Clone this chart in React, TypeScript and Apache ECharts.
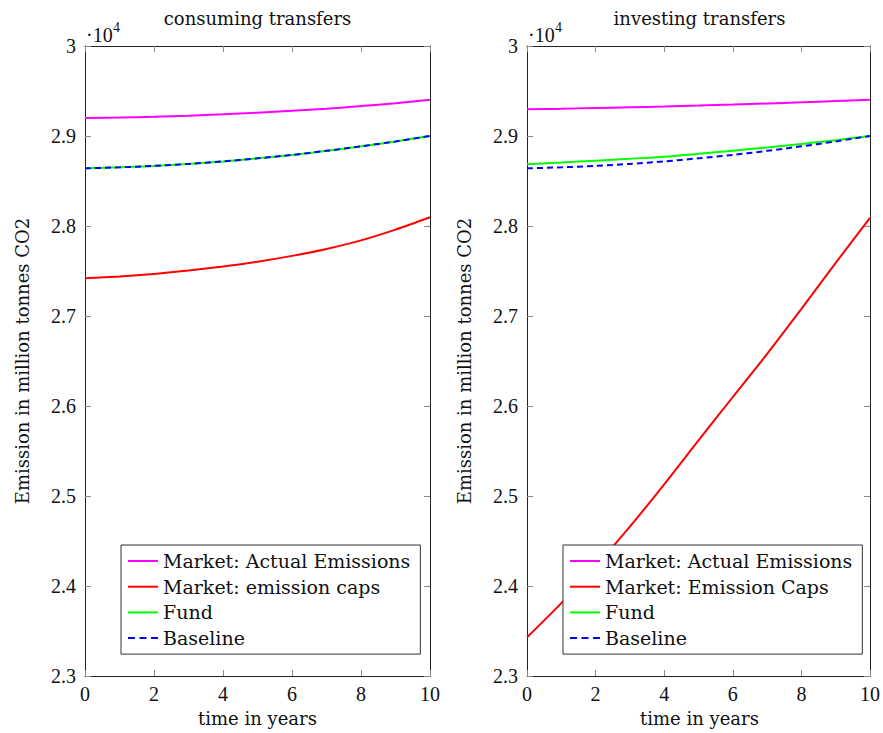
import React, { useEffect, useRef } from "react";
import * as echarts from "echarts";

// Years on the horizontal axis
const years = [0, 1, 2, 3, 4, 5, 6, 7, 8, 9, 10];

// Emissions in million tonnes CO2 — consuming transfers
const consActual = [29200, 29205, 29214, 29226, 29241, 29259, 29280, 29304, 29332, 29365, 29402];
const consCaps = [27420, 27440, 27468, 27505, 27550, 27603, 27668, 27745, 27840, 27960, 28097];
const consFund = [28641, 28652, 28668, 28690, 28718, 28752, 28790, 28835, 28885, 28940, 29000];
const consBaseline = [28641, 28652, 28668, 28690, 28718, 28752, 28790, 28835, 28885, 28940, 29000];

// Emissions in million tonnes CO2 — investing transfers
const invActual = [29296, 29303, 29311, 29319, 29328, 29338, 29349, 29361, 29374, 29389, 29404];
const invCaps = [23430, 23810, 24220, 24660, 25130, 25617, 26100, 26580, 27080, 27590, 28090];
const invFund = [28686, 28705, 28726, 28747, 28770, 28802, 28837, 28872, 28911, 28954, 29000];
const invBaseline = [28641, 28652, 28668, 28690, 28718, 28752, 28790, 28835, 28885, 28940, 29000];

const panelTitles = ["consuming transfers", "investing transfers"];
const consNames = ["Market: Actual Emissions", "Market: emission caps", "Fund", "Baseline"];
const invNames = ["Market: Actual Emissions", "Market: Emission Caps", "Fund", "Baseline"];
const seriesColors = ["#ff00ff", "#ff0000", "#00ff00", "#0000ff"];

const SERIF = "DejaVu Serif";
const NUM = "Liberation Serif";

const GRID_TOP = 46;
const GRID_H = 630;
const GRID_W = 345;
const GRID_LEFTS = [85, 527];

// legend keys: a solid bar, and a three-dash bar for the dashed series
const SOLID_KEY = "path://M0,0h30v2h-30z";
const DASH_KEY = "path://M0,0h7v2h-7z M11.5,0h7v2h-7z M23,0h7v2h-7z";

function pairs(vals: number[]) {
  return years.map((x, i) => [x, vals[i]]);
}

function makeSeries(names: string[], sets: number[][], axisIdx: number) {
  return sets.map((vals, i) => ({
    name: names[i],
    type: "line",
    xAxisIndex: axisIdx,
    yAxisIndex: axisIdx,
    data: pairs(vals),
    symbol: "none",
    smooth: 0.3,
    lineStyle: {
      color: seriesColors[i],
      width: 2,
      type: i === 3 ? [6, 4] : "solid",
    },
    itemStyle: { color: seriesColors[i] },
  }));
}

const tickStyle = { inside: true, length: 6, lineStyle: { color: "#888", width: 1 } };
const lineStyle = { show: true, onZero: false, lineStyle: { color: "#222", width: 1 } };

function xAxes(gridIndex: number) {
  return [
    {
      type: "value",
      gridIndex,
      position: "bottom",
      min: 0,
      max: 10,
      interval: 2,
      axisLine: lineStyle,
      axisTick: tickStyle,
      splitLine: { show: false },
      axisLabel: { color: "#111", fontFamily: NUM, fontSize: 20, margin: 8 },
    },
    {
      type: "value",
      gridIndex,
      position: "top",
      min: 0,
      max: 10,
      interval: 2,
      axisLine: lineStyle,
      axisTick: tickStyle,
      splitLine: { show: false },
      axisLabel: { show: false },
    },
  ];
}

function yAxes(gridIndex: number) {
  return [
    {
      type: "value",
      gridIndex,
      position: "left",
      min: 23000,
      max: 30000,
      interval: 1000,
      axisLine: lineStyle,
      axisTick: tickStyle,
      splitLine: { show: false },
      axisLabel: {
        color: "#111",
        fontFamily: NUM,
        fontSize: 20,
        margin: 9,
        formatter: (v: number) => String(Number((v / 10000).toFixed(1))),
      },
    },
    {
      type: "value",
      gridIndex,
      position: "right",
      min: 23000,
      max: 30000,
      interval: 1000,
      axisLine: lineStyle,
      axisTick: tickStyle,
      splitLine: { show: false },
      axisLabel: { show: false },
    },
  ];
}

function legendFor(names: string[], left: number) {
  return {
    data: names.map((name, i) => ({
      name,
      icon: i === 3 ? DASH_KEY : SOLID_KEY,
      itemStyle: { color: seriesColors[i] },
    })),
    orient: "vertical",
    left,
    top: 545,
    padding: [6, 10, 6, 7],
    itemGap: 5.7,
    itemWidth: 30,
    itemHeight: 2,
    selectedMode: false,
    backgroundColor: "#fff",
    borderColor: "#333",
    borderWidth: 1,
    borderRadius: 0,
    textStyle: { color: "#111", fontFamily: SERIF, fontSize: 19, lineHeight: 20 },
  };
}

function panelGraphics(p: number) {
  const gl = GRID_LEFTS[p];
  const cx = gl + GRID_W / 2;
  const cy = GRID_TOP + GRID_H / 2;
  return [
    {
      type: "text",
      x: cx,
      y: 18,
      style: { text: panelTitles[p], font: `18px "${SERIF}"`, fill: "#111", textAlign: "center", textVerticalAlign: "middle" },
    },
    {
      type: "text",
      x: cx,
      y: 718,
      style: { text: "time in years", font: `18px "${SERIF}"`, fill: "#111", textAlign: "center", textVerticalAlign: "middle" },
    },
    {
      type: "text",
      x: gl - 63,
      y: cy,
      rotation: Math.PI / 2,
      style: {
        text: "Emission in million tonnes CO2",
        font: `18px "${SERIF}"`,
        fill: "#111",
        textAlign: "center",
        textVerticalAlign: "middle",
      },
    },
    {
      type: "text",
      x: gl + 1,
      y: 35,
      style: { text: "·10", font: `20px "${NUM}"`, fill: "#111", textAlign: "left", textVerticalAlign: "middle" },
    },
    {
      type: "text",
      x: gl + 28,
      y: 27,
      style: { text: "4", font: `14px "${NUM}"`, fill: "#111", textAlign: "left", textVerticalAlign: "middle" },
    },
  ];
}

export default function App() {
  const ref = useRef<HTMLDivElement>(null);

  useEffect(() => {
    if (!ref.current) return;
    const chart = echarts.init(ref.current, null, { renderer: "svg" });
    chart.setOption({
      animation: false,
      backgroundColor: "#fff",
      grid: GRID_LEFTS.map((left) => ({ left, top: GRID_TOP, width: GRID_W, height: GRID_H })),
      xAxis: [...xAxes(0), ...xAxes(1)],
      yAxis: [...yAxes(0), ...yAxes(1)],
      legend: [legendFor(consNames, 121), legendFor(invNames, 563)],
      series: [
        ...makeSeries(consNames, [consActual, consCaps, consFund, consBaseline], 0),
        ...makeSeries(invNames, [invActual, invCaps, invFund, invBaseline], 2),
      ],
      graphic: [...panelGraphics(0), ...panelGraphics(1)],
    });
    return () => chart.dispose();
  }, []);

  return (
    <div
      ref={ref}
      style={{ position: "fixed", left: 0, top: 0, width: 883, height: 733, background: "#fff" }}
    />
  );
}
